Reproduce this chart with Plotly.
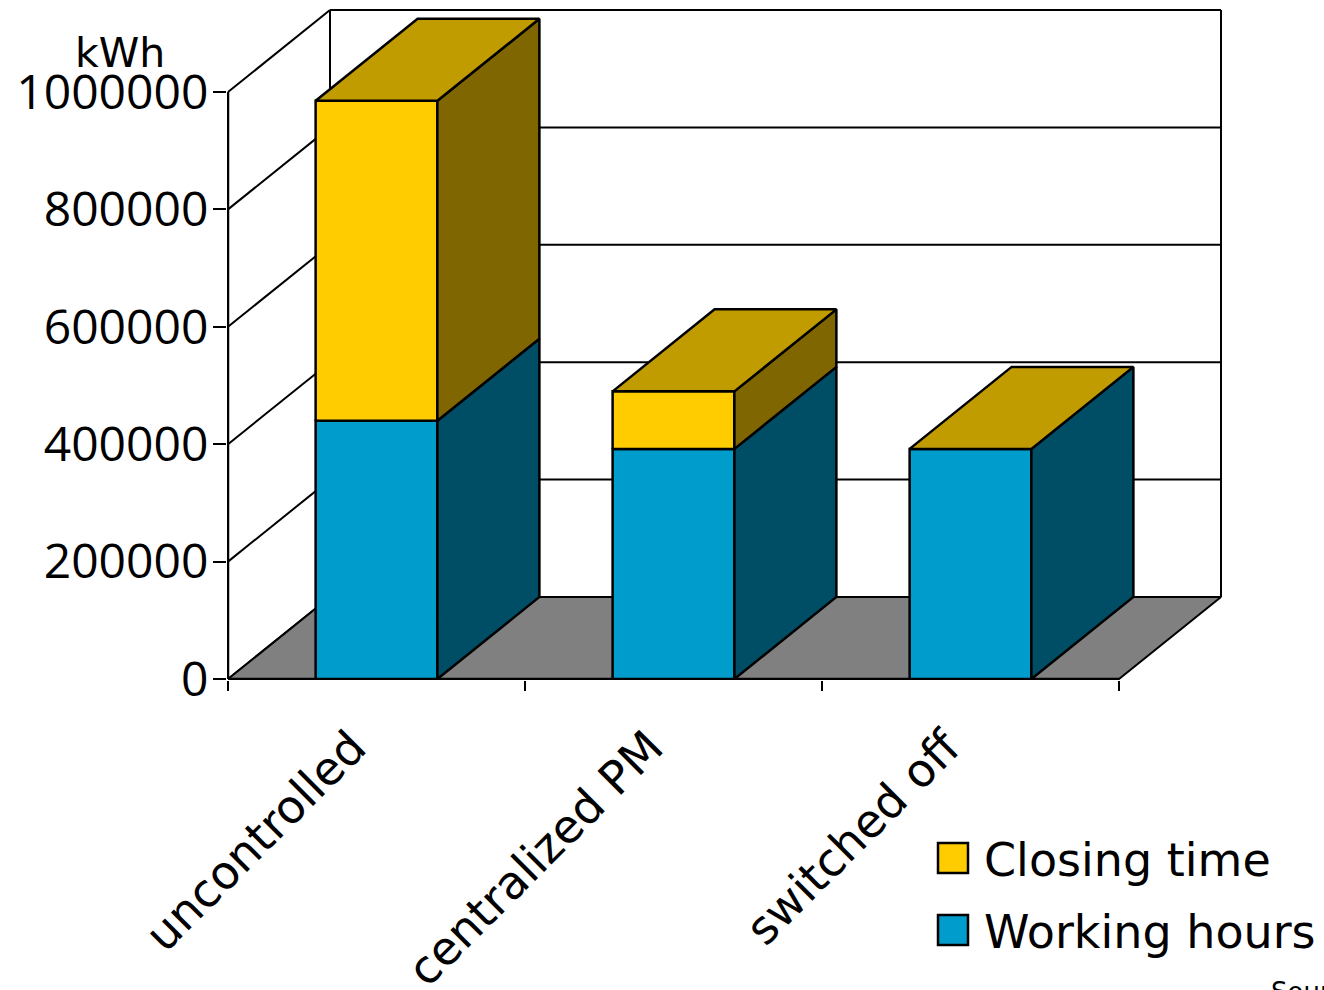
import plotly.graph_objects as go

# ---- data -------------------------------------------------------------
categories = ["uncontrolled", "centralized PM", "switched off"]
working_hours = [440000, 392000, 392000]
closing_time = [545000, 98000, 0]
y_ticks = [0, 200000, 400000, 600000, 800000, 1000000]

series = [
    dict(name="Working hours", values=working_hours,
         front="#009ccc", side="#004d66", top="#007a9f"),
    dict(name="Closing time", values=closing_time,
         front="#ffcc00", side="#806600", top="#c19c00"),
]

# ---- geometry of the oblique 3-D projection -----------------------------
FIG_W, FIG_H = 1324, 990
CAT_PX = 297.0            # pixels per category on the front plane
VAL_PX = 587.0 / 1e6      # pixels per kWh on the front plane
ORIGIN_X, ORIGIN_Y = 228, 679
DU = 102 / CAT_PX         # depth offset, category units
DV = 82 / VAL_PX          # depth offset, kWh units
BAR_W = 0.41              # bar width as a share of a category
N = len(categories)
V_MAX = y_ticks[-1]

# plot area in pixels
PL, PR, PT, PB = 227, 1224, 6, 680
M = dict(l=PL, r=FIG_W - PR, t=PT, b=FIG_H - PB)
x_range = [(PL - ORIGIN_X) / CAT_PX, (PR - ORIGIN_X) / CAT_PX]
y_range = [(ORIGIN_Y - PB) / VAL_PX, (ORIGIN_Y - PT) / VAL_PX]


def px_paper(px, py):
    return (px - PL) / (PR - PL), (PB - py) / (PB - PT)


fig = go.Figure()


def lines(segs, width=2, color="black"):
    xs, ys = [], []
    for (x0, y0), (x1, y1) in segs:
        xs += [x0, x1, None]
        ys += [y0, y1, None]
    fig.add_trace(go.Scatter(x=xs, y=ys, mode="lines",
                             line=dict(color=color, width=width),
                             hoverinfo="skip", showlegend=False))


def face(pts, color, width=2.5):
    xs = [p[0] for p in pts] + [pts[0][0]]
    ys = [p[1] for p in pts] + [pts[0][1]]
    fig.add_trace(go.Scatter(x=xs, y=ys, mode="lines", fill="toself",
                             fillcolor=color,
                             line=dict(color="black", width=width),
                             hoverinfo="skip", showlegend=False))


# back wall: gridlines and frame
lines([((DU, v + DV), (N + DU, v + DV)) for v in y_ticks[1:]])
lines([((DU, DV), (DU, V_MAX + DV)), ((N + DU, DV), (N + DU, V_MAX + DV))])
# side wall: receding gridlines
lines([((0, v), (DU, v + DV)) for v in y_ticks])
# floor
face([(0, 0), (N, 0), (N + DU, DV), (DU, DV)], "#808080", width=2)
# front value axis and category baseline
lines([((0, 0), (0, V_MAX)), ((0, 0), (N, 0))], width=2.5)

# stacked bars
for i in range(N):
    x0 = i + (1 - BAR_W) / 2
    x1 = x0 + BAR_W
    base = 0
    for s in series:
        val = s["values"][i]
        top = base + val
        if val > 0:
            face([(x0, base), (x1, base), (x1, top), (x0, top)], s["front"])
            face([(x1, base), (x1 + DU, base + DV),
                  (x1 + DU, top + DV), (x1, top)], s["side"])
        base = top
    cap = series[-1]["top"]
    face([(x0, base), (x1, base), (x1 + DU, base + DV), (x0 + DU, base + DV)], cap)

# anchor trace for the category label axis
fig.add_trace(go.Scatter(x=[i + 0.5 for i in range(N)], y=[0] * N, xaxis="x2",
                         mode="markers", marker=dict(opacity=0),
                         hoverinfo="skip", showlegend=False))

# legend drawn as boxes and labels
shapes = []
annotations = []
legend_rows = [(series[1], 843), (series[0], 915)]
for s, top_px in legend_rows:
    ax0, ay0 = px_paper(938, top_px + 30)
    ax1, ay1 = px_paper(968, top_px)
    shapes.append(dict(type="rect", xref="paper", yref="paper",
                       x0=ax0, y0=ay0, x1=ax1, y1=ay1,
                       fillcolor=s["front"], line=dict(color="black", width=2.5)))
    tx, ty = px_paper(982, top_px + 17)
    annotations.append(dict(text=s["name"], xref="paper", yref="paper",
                            x=tx, y=ty, xanchor="left", yanchor="middle",
                            showarrow=False,
                            font=dict(family="DejaVu Sans", size=46, color="black")))

kx, ky = px_paper(120, 53)
annotations.append(dict(text="kWh", xref="paper", yref="paper", x=kx, y=ky,
                        xanchor="center", yanchor="middle", showarrow=False,
                        font=dict(family="DejaVu Sans", size=41, color="black")))
sx, sy = px_paper(1269, 975)
annotations.append(dict(text="Source", xref="paper", yref="paper", x=sx, y=sy,
                        xanchor="left", yanchor="top", showarrow=False,
                        font=dict(family="DejaVu Sans", size=26, color="black")))

fig.update_layout(
    width=FIG_W, height=FIG_H, margin=M,
    paper_bgcolor="white", plot_bgcolor="white",
    showlegend=False,
    shapes=shapes, annotations=annotations,
    xaxis=dict(range=x_range, tickvals=list(range(N + 1)),
               ticktext=[""] * (N + 1), ticks="outside", ticklen=10,
               tickwidth=2, tickcolor="black", showgrid=False,
               zeroline=False, showline=False, fixedrange=True,
               automargin=False),
    xaxis2=dict(range=x_range, overlaying="x", anchor="y", side="bottom",
                tickvals=[i + 0.5 for i in range(N)], ticktext=categories,
                tickangle=-45, ticks="", showgrid=False, zeroline=False,
                showline=False, fixedrange=True, automargin=False,
                ticklabelstandoff=30, ticklabelshift=-24,
                tickfont=dict(family="DejaVu Sans", size=46, color="black")),
    yaxis=dict(range=y_range, tickvals=y_ticks,
               ticktext=[str(v) for v in y_ticks],
               ticks="outside", ticklen=13, tickwidth=2, tickcolor="black",
               showgrid=False, zeroline=False, showline=False, fixedrange=True,
               automargin=False, ticklabelstandoff=-5,
               tickfont=dict(family="Open Sans", size=48, color="black")),
)

fig.write_html("out.html")
